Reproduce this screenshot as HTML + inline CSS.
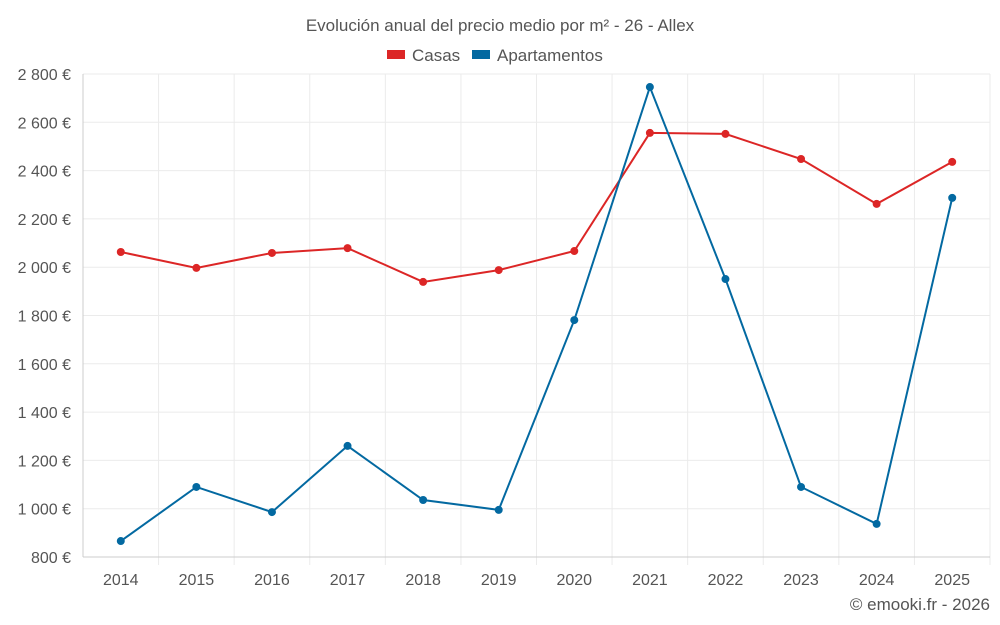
<!DOCTYPE html>
<html><head><meta charset="utf-8">
<style>
html,body{margin:0;padding:0;background:#fff;}
svg{display:block;font-family:"Liberation Sans",sans-serif;}
</style></head>
<body>
<svg id="chart" width="1000" height="625" viewBox="0 0 1000 625">
<text x="500" y="31" text-anchor="middle" font-size="17" fill="#555">Evolución anual del precio medio por m² - 26 - Allex</text>
<g>
<g><rect x="387" y="50" width="18" height="9" fill="#dc2626"/><text x="412" y="61" font-size="17" fill="#555">Casas</text></g>
<g><rect x="472" y="50" width="18" height="9" fill="#0369a1"/><text x="497" y="61" font-size="17" fill="#555">Apartamentos</text></g>
</g>
<g id="grid"></g>
<g id="axes"></g>
<g id="series"></g>
<text x="990" y="610" text-anchor="end" font-size="17" fill="#555">© emooki.fr - 2026</text>
</svg>
<script>
const years = [2014,2015,2016,2017,2018,2019,2020,2021,2022,2023,2024,2025];
const casas = [2063,1997,2059,2079,1939,1988,2067,2556,2552,2448,2262,2436];
const apartamentos = [866,1090,986,1260,1036,995,1781,2746,1951,1090,937,2287];
const yTicks = [800,1000,1200,1400,1600,1800,2000,2200,2400,2600,2800];
const yTickLabels = ["800 €","1 000 €","1 200 €","1 400 €","1 600 €","1 800 €","2 000 €","2 200 €","2 400 €","2 600 €","2 800 €"];

const L=83,R=990,T=74,B=557,yMin=800,yMax=2800;
const step=(R-L)/years.length;
function xs(i){return L+step*(i+0.5);}
function ys(v){return B-(v-yMin)/(yMax-yMin)*(B-T);}
const NS="http://www.w3.org/2000/svg";
function mk(tag,attrs,parent){const e=document.createElementNS(NS,tag);for(const k in attrs)e.setAttribute(k,attrs[k]);parent.appendChild(e);return e;}
const grid=document.getElementById('grid'),axes=document.getElementById('axes'),series=document.getElementById('series');
yTicks.forEach((t,i)=>{
  const g=mk('line',{x1:L,x2:R,y1:ys(t),y2:ys(t),stroke:'#ebebeb','stroke-width':1},grid);
  
  
  const tx=mk('text',{x:L-12,y:ys(t)+6,'text-anchor':'end','font-size':16,fill:'#555'},axes);
  tx.textContent=yTickLabels[i];
  
  
});
for(let i=0;i<=years.length;i++){
  const g=mk('line',{x1:L+step*i,x2:L+step*i,y1:T,y2:B+(i===0?0:8),stroke:i===0?'#ccc':'#ebebeb','stroke-width':1},grid);
  
  
}
const ax=mk('line',{x1:L,x2:R,y1:B,y2:B,stroke:'#ccc'},axes);


years.forEach((y,i)=>{
  const tx=mk('text',{x:xs(i),y:B+28,'text-anchor':'middle','font-size':16,fill:'#555'},axes);
  tx.textContent=y;
  
  
});
function draw(vals,color,name){
  const p=mk('polyline',{points:vals.map((v,i)=>xs(i)+','+ys(v)).join(' '),fill:'none',stroke:color,'stroke-width':2},series);
  
  
  vals.forEach((v,i)=>{
    const c=mk('circle',{cx:xs(i),cy:ys(v),r:4,fill:color},series);
    
    
  });
}
draw(casas,'#dc2626','casas');
draw(apartamentos,'#0369a1','apartamentos');
</script>
</body></html>
